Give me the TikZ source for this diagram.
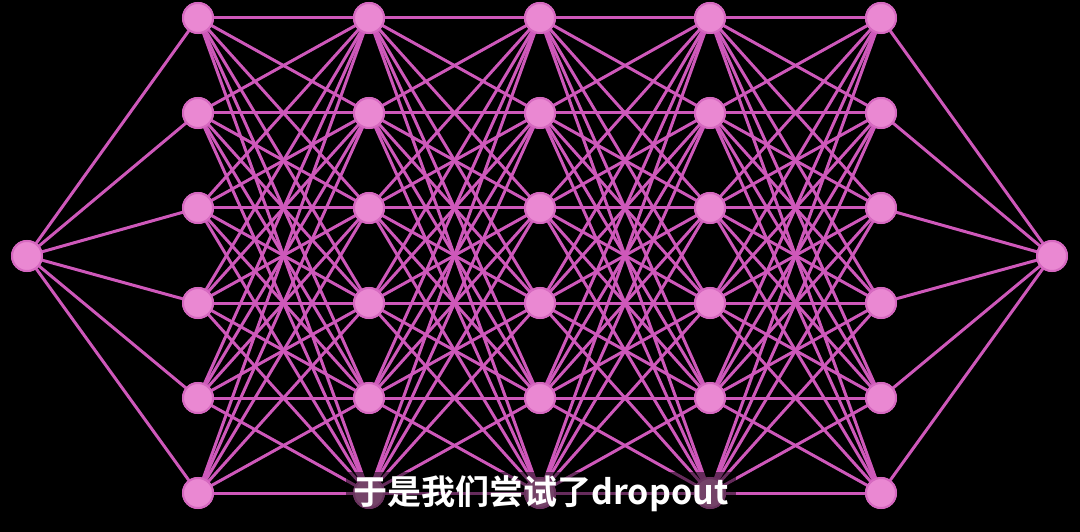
\documentclass[tikz,border=0pt]{standalone}
\usepackage{fontspec}
\newfontfamily\cjk{Noto Sans CJK SC Bold}
\definecolor{edgec}{RGB}{206,88,186}
\definecolor{nodefill}{RGB}{234,136,210}
\definecolor{nodeborder}{RGB}{214,104,192}
\begin{document}
\begin{tikzpicture}[x=1pt,y=-1pt,
  neuron/.style={circle,fill=nodefill,draw=nodeborder,line width=2pt,minimum size=30pt,inner sep=0pt},
  conn/.style={edgec,line width=3pt},
  caption/.style={font=\cjk\fontsize{34}{37}\selectfont,text=white,fill=black,fill opacity=0.5,text opacity=1,inner xsep=8pt,inner ysep=4pt}]
\useasboundingbox (0,0) rectangle (1080,532);
\fill[black] (0,0) rectangle (1080,532);
% node positions
\node[neuron] (in) at (27,256) {};
\node[neuron] (out) at (1052,256) {};
\foreach \l/\x in {1/198,2/369,3/540,4/710,5/881}{
  \foreach \r/\y in {1/18,2/113,3/208,4/303,5/398,6/493}{
    \node[neuron] (h\l\r) at (\x,\y) {};
  }
}
% connections
\foreach \r in {1,...,6}{
  \draw[conn] (in.center) -- (h1\r.center);
  \draw[conn] (h5\r.center) -- (out.center);
}
\foreach \l [evaluate=\l as \n using int(\l+1)] in {1,2,3,4}{
  \foreach \a in {1,...,6}{
    \foreach \b in {1,...,6}{
      \draw[conn] (h\l\a.center) -- (h\n\b.center);
    }
  }
}
% nodes on top of connections
\node[neuron] at (in) {};
\node[neuron] at (out) {};
\foreach \l in {1,...,5}{
  \foreach \r in {1,...,6}{
    \node[neuron] at (h\l\r) {};
  }
}
\node[caption] (cap) at (541,494) {于是我们尝试了dropout};
\end{tikzpicture}
\end{document}
